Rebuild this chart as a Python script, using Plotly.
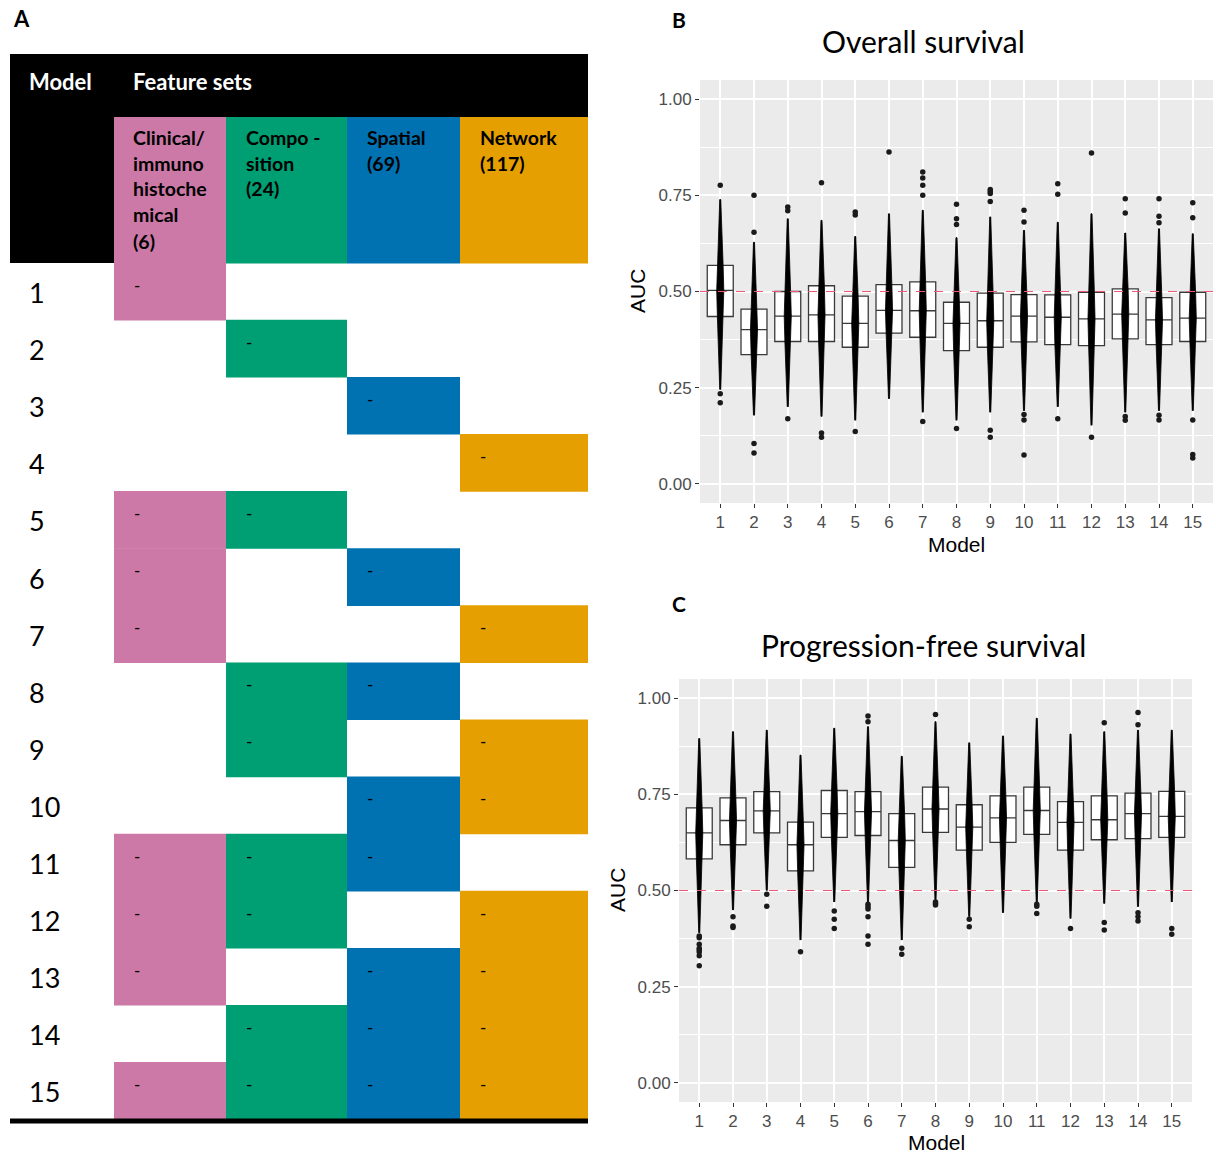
import plotly.graph_objects as go

W, H = 1216, 1154

# ---------------- data ----------------
models = list(range(1, 16))
model_labels = [str(m) for m in models]
feature_sets = ["Clinical/immunohistochemical (6)", "Composition (24)", "Spatial (69)", "Network (117)"]
header_lines = [["Clinical/", "immuno", "histoche", "mical", "(6)"],
                ["Compo -", "sition", "(24)"],
                ["Spatial", "(69)"],
                ["Network", "(117)"]]
uses_clinical = [1, 0, 0, 0, 1, 1, 1, 0, 0, 0, 1, 1, 1, 0, 1]
uses_composition = [0, 1, 0, 0, 1, 0, 0, 1, 1, 0, 1, 1, 0, 1, 1]
uses_spatial = [0, 0, 1, 0, 0, 1, 0, 1, 0, 1, 1, 0, 1, 1, 1]
uses_network = [0, 0, 0, 1, 0, 0, 1, 0, 1, 1, 0, 1, 1, 1, 1]
feature_colors = ["#CC79A7", "#009E73", "#0072B2", "#E69F00"]

y_ticks = [0.0, 0.25, 0.5, 0.75, 1.0]
y_ticktext = ["0.00", "0.25", "0.50", "0.75", "1.00"]

# Overall survival AUC summary
os_q1 = [0.435, 0.336, 0.370, 0.370, 0.355, 0.392, 0.381, 0.346, 0.355, 0.369, 0.362, 0.359, 0.377, 0.362, 0.370]
os_median = [0.503, 0.401, 0.436, 0.439, 0.417, 0.451, 0.450, 0.417, 0.424, 0.436, 0.433, 0.429, 0.441, 0.426, 0.431]
os_q3 = [0.568, 0.454, 0.500, 0.515, 0.488, 0.518, 0.525, 0.472, 0.496, 0.492, 0.491, 0.498, 0.507, 0.484, 0.498]
os_low = [0.245, 0.178, 0.200, 0.175, 0.165, 0.221, 0.186, 0.165, 0.186, 0.190, 0.200, 0.152, 0.186, 0.190, 0.190]
os_high = [0.739, 0.628, 0.689, 0.685, 0.643, 0.702, 0.711, 0.640, 0.694, 0.659, 0.680, 0.702, 0.652, 0.663, 0.650]
os_out_model = [1, 1, 1, 2, 2, 2, 2, 3, 3, 3, 4, 4, 4, 5, 5, 5, 6, 7, 7, 7, 7, 7,
                8, 8, 8, 8, 9, 9, 9, 9, 9, 9, 10, 10, 10, 10, 10, 11, 11, 11, 12, 12,
                13, 13, 13, 13, 14, 14, 14, 14, 14, 15, 15, 15, 15, 15]
os_out_auc = [0.776, 0.234, 0.211, 0.750, 0.654, 0.105, 0.080, 0.720, 0.710, 0.169,
              0.783, 0.132, 0.121, 0.707, 0.699, 0.136, 0.863, 0.811, 0.795, 0.776, 0.750, 0.162,
              0.727, 0.689, 0.674, 0.144, 0.765, 0.760, 0.755, 0.734, 0.139, 0.121,
              0.711, 0.681, 0.180, 0.166, 0.075, 0.780, 0.753, 0.169, 0.860, 0.121,
              0.741, 0.704, 0.175, 0.165, 0.741, 0.696, 0.679, 0.178, 0.166,
              0.731, 0.692, 0.166, 0.076, 0.067]

# Progression-free survival AUC summary
pfs_q1 = [0.582, 0.619, 0.650, 0.551, 0.638, 0.643, 0.560, 0.651, 0.605, 0.625, 0.646, 0.605, 0.632, 0.635, 0.638]
pfs_median = [0.650, 0.682, 0.707, 0.619, 0.700, 0.705, 0.630, 0.712, 0.665, 0.689, 0.708, 0.677, 0.684, 0.700, 0.693]
pfs_q3 = [0.715, 0.741, 0.757, 0.678, 0.760, 0.757, 0.700, 0.769, 0.723, 0.746, 0.769, 0.731, 0.746, 0.753, 0.758]
pfs_low = [0.390, 0.449, 0.500, 0.371, 0.470, 0.470, 0.371, 0.475, 0.432, 0.442, 0.470, 0.427, 0.466, 0.458, 0.470]
pfs_high = [0.895, 0.913, 0.917, 0.852, 0.922, 0.926, 0.849, 0.939, 0.884, 0.902, 0.948, 0.907, 0.913, 0.917, 0.917]
pfs_out_model = [1, 1, 1, 1, 1, 1, 1, 1, 2, 2, 2, 3, 3, 4, 5, 5, 5,
                 6, 6, 6, 6, 6, 6, 6, 6, 7, 7, 8, 8, 8, 8, 9, 9,
                 11, 11, 11, 12, 13, 13, 13, 14, 14, 14, 14, 14, 15, 15]
pfs_out_auc = [0.382, 0.377, 0.360, 0.350, 0.345, 0.340, 0.330, 0.304,
               0.432, 0.408, 0.404, 0.490, 0.459, 0.341, 0.447, 0.425, 0.401,
               0.954, 0.939, 0.464, 0.458, 0.452, 0.432, 0.382, 0.360,
               0.350, 0.334, 0.958, 0.470, 0.466, 0.462, 0.425, 0.406,
               0.464, 0.459, 0.440, 0.401, 0.936, 0.417, 0.397,
               0.963, 0.931, 0.442, 0.432, 0.421, 0.401, 0.386]

# ---------------- helpers ----------------
def px(x):
    return x / W


def py(y):
    return 1 - y / H


fig = go.Figure()
shapes = []
ann = []
TXT = "Lato, 'Noto Sans', sans-serif"

# ---------------- Panel A: table ----------------
col_x = [114, 226, 347, 460, 588]
row_top0, row_h = 263, 57.1

def rect(x0, y0, x1, y1, color):
    shapes.append(dict(type="rect", xref="paper", yref="paper",
                       x0=px(x0), x1=px(x1), y0=py(y1), y1=py(y0),
                       fillcolor=color, line=dict(width=0), layer="above"))

rect(10, 54, 588, 117.5, "black")
rect(10, 117, 115, row_top0, "black")
for j, c in enumerate(feature_colors):
    rect(col_x[j], 117, col_x[j + 1], row_top0 + 0.5, c)

membership = [uses_clinical, uses_composition, uses_spatial, uses_network]
for i, m in enumerate(models):
    top = row_top0 + i * row_h
    for j in range(4):
        if membership[j][i]:
            rect(col_x[j], top - 0.3, col_x[j + 1], top + row_h + 0.3, feature_colors[j])
            ann.append(dict(text="-", x=px(col_x[j] + 18), y=py(top + 22), xref="paper", yref="paper",
                            xanchor="left", yanchor="middle", showarrow=False,
                            font=dict(family=TXT, size=17, color="black")))
    ann.append(dict(text=str(m), x=px(27), y=py(top + row_h / 2 + 1), xref="paper", yref="paper",
                    xanchor="left", yanchor="middle", showarrow=False,
                    font=dict(family=TXT, size=27, color="black")))
rect(10, row_top0 + 15 * row_h - 1, 588, row_top0 + 15 * row_h + 4, "black")

ann.append(dict(text="<b>Model</b>", x=px(27), y=py(82), xref="paper", yref="paper",
                xanchor="left", yanchor="middle", showarrow=False,
                font=dict(family=TXT, size=22, color="white")))
ann.append(dict(text="<b>Feature sets</b>", x=px(131), y=py(82), xref="paper", yref="paper",
                xanchor="left", yanchor="middle", showarrow=False,
                font=dict(family=TXT, size=22, color="white")))
head_x = [131, 244, 365, 478]
for j, lines in enumerate(header_lines):
    for k, t in enumerate(lines):
        ann.append(dict(text="<b>%s</b>" % t, x=px(head_x[j]), y=py(137 + 26 * k), xref="paper", yref="paper",
                        xanchor="left", yanchor="middle", showarrow=False,
                        font=dict(family=TXT, size=19.5, color="black")))

ann.append(dict(text="<b>A</b>", x=px(11), y=py(19), xref="paper", yref="paper",
                xanchor="left", yanchor="middle", showarrow=False,
                font=dict(family=TXT, size=22, color="black")))

# ---------------- Panels B & C ----------------
panels = [
    dict(xa="x", ya="y", q1=os_q1, med=os_median, q3=os_q3, lo=os_low, hi=os_high,
         ox=os_out_model, oy=os_out_auc),
    dict(xa="x2", ya="y2", q1=pfs_q1, med=pfs_median, q3=pfs_q3, lo=pfs_low, hi=pfs_high,
         ox=pfs_out_model, oy=pfs_out_auc),
]

for p in panels:
    fig.add_trace(go.Box(x=models, q1=p["q1"], median=p["med"], q3=p["q3"],
                         lowerfence=p["lo"], upperfence=p["hi"],
                         xaxis=p["xa"], yaxis=p["ya"], width=0.77, whiskerwidth=0,
                         fillcolor="white", line=dict(color="#3a3a3a", width=1.3),
                         boxpoints=False, hoverinfo="skip", showlegend=False))
    # dense dot-swarm column drawn as a spindle around the summary statistics
    xs, ys = [], []
    hw = [0.015, 0.045, 0.085, 0.105, 0.085, 0.045, 0.015]
    for i, m in enumerate(models):
        lv = [p["lo"][i], (p["lo"][i] + p["q1"][i]) / 2, p["q1"][i], p["med"][i],
              p["q3"][i], (p["q3"][i] + p["hi"][i]) / 2, p["hi"][i]]
        for k in range(7):
            xs.append(m + hw[k]); ys.append(lv[k])
        for k in range(6, -1, -1):
            xs.append(m - hw[k]); ys.append(lv[k])
        xs.append(None); ys.append(None)
    fig.add_trace(go.Scatter(x=xs, y=ys, xaxis=p["xa"], yaxis=p["ya"], mode="lines",
                             fill="toself", fillcolor="black", line=dict(color="black", width=0.8),
                             hoverinfo="skip", showlegend=False))
    fig.add_trace(go.Scatter(x=p["ox"], y=p["oy"], xaxis=p["xa"], yaxis=p["ya"], mode="markers",
                             marker=dict(size=5.5, color="#1a1a1a"),
                             hoverinfo="skip", showlegend=False))
    shapes.append(dict(type="line", xref=p["xa"] + " domain", yref=p["ya"],
                       x0=0, x1=1, y0=0.5, y1=0.5, layer="above",
                       line=dict(color="#F0587A", width=1.2, dash="dash")))

axis_common = dict(showline=False, zeroline=False, ticks="outside", ticklen=4, tickwidth=1,
                   tickcolor="#333333", gridcolor="white", gridwidth=1.5,
                   tickfont=dict(family="Liberation Sans, Arial, sans-serif", size=17, color="#4D4D4D"))

xcfg = dict(range=[0.4, 15.6], tickvals=models, ticktext=model_labels, **axis_common)
ycfg = dict(range=[-0.05, 1.05], tickvals=y_ticks, ticktext=y_ticktext,
            minor=dict(dtick=0.125, tick0=0, showgrid=True, gridcolor="white", gridwidth=0.7, ticks=""),
            **axis_common)

fig.update_layout(
    width=W, height=H, margin=dict(l=0, r=0, t=0, b=0),
    paper_bgcolor="white", plot_bgcolor="#EBEBEB", showlegend=False,
    xaxis=dict(domain=[px(700), px(1213)], anchor="y", **xcfg),
    yaxis=dict(domain=[py(503), py(80)], anchor="x", **ycfg),
    xaxis2=dict(domain=[px(679), px(1192)], anchor="y2", **xcfg),
    yaxis2=dict(domain=[py(1102), py(679)], anchor="x2", **ycfg),
)

AX = "Liberation Sans, Arial, sans-serif"
for (tx, ty, t, sz, fam, ang) in [
    (923, 41, "Overall survival", 30, TXT, 0),
    (923, 645, "Progression-free survival", 30, TXT, 0),
    (956, 544, "Model", 21, AX, 0),
    (936, 1142, "Model", 21, AX, 0),
    (637, 291, "AUC", 21, AX, -90),
    (617, 890, "AUC", 21, AX, -90),
]:
    ann.append(dict(text=t, x=px(tx), y=py(ty), xref="paper", yref="paper",
                    xanchor="center", yanchor="middle", showarrow=False, textangle=ang,
                    font=dict(family=fam, size=sz, color="black")))
ann.append(dict(text="<b>B</b>", x=px(670), y=py(20), xref="paper", yref="paper",
                xanchor="left", yanchor="middle", showarrow=False,
                font=dict(family=TXT, size=21, color="black")))
ann.append(dict(text="<b>C</b>", x=px(670), y=py(603), xref="paper", yref="paper",
                xanchor="left", yanchor="middle", showarrow=False,
                font=dict(family=TXT, size=21, color="black")))

fig.update_layout(shapes=shapes, annotations=ann)
fig.write_html("out.html")
